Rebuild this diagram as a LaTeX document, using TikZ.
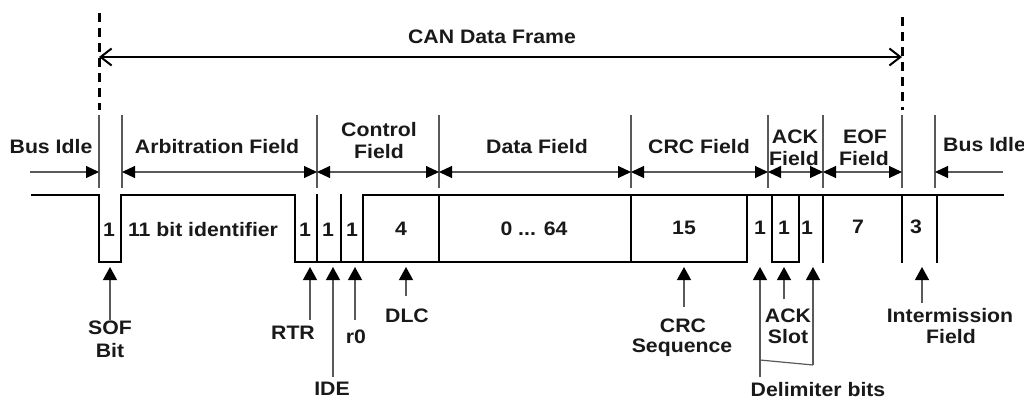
\documentclass[tikz,border=0pt]{standalone}
\usepackage{fontspec}
\setmainfont{Liberation Sans}[FakeStretch=1.09]
\usetikzlibrary{arrows.meta}
\begin{document}
\begin{tikzpicture}[x=1pt,y=-1pt,
  lbl/.style={font=\fontsize{19.5}{22}\selectfont\bfseries, inner sep=0pt, anchor=base, text=black!90},
  sig/.style={line width=2.8pt, line join=miter, line cap=rect},
  fline/.style={line width=1.1pt, black!65},
  farrow/.style={line width=1.1pt, black!65, {Triangle[length=13pt,width=12pt,black]}-{Triangle[length=13pt,width=12pt,black]}},
  rarrow/.style={line width=1.1pt, black!65, -{Triangle[length=13pt,width=12pt,black]}},
  uarrow/.style={line width=1.2pt, black!65, -{Triangle[length=13pt,width=14pt,black]}},
  dashline/.style={line width=3pt, dash pattern=on 9pt off 6pt},
  frame/.style={line width=2pt, {Straight Barb[length=11pt,width=17pt]}-{Straight Barb[length=11pt,width=17pt]}}
]
\useasboundingbox (0,0) rectangle (1024,399);

% ---------- frame dashed markers and overall arrow ----------
\coordinate (dl1) at (99,13);  \coordinate (dl2) at (99,110);
\coordinate (dr1) at (902,17); \coordinate (dr2) at (902,110);
\draw[dashline] (dl1) -- (dl2);
\draw[dashline] (dr1) -- (dr2);
\coordinate (fl) at (99,57); \coordinate (fr) at (902,57);
\draw[frame] (fl) -- (fr);
\node[lbl] (canf) at (492,43) {CAN Data Frame};

% ---------- field boundary lines ----------
\foreach \x [count=\i] in {99,122,317,439,631,768,823,902,935}{
  \coordinate (bt\i) at (\x,115);
  \coordinate (bb\i) at (\x,188);
  \draw[fline] (bt\i) -- (bb\i);
}

% ---------- field arrows ----------
\coordinate (fa0) at (30,172);
\coordinate (fa1) at (99,172);
\coordinate (fa2) at (122,172);
\coordinate (fa3) at (317,172);
\coordinate (fa4) at (439,172);
\coordinate (fa5) at (631,172);
\coordinate (fa6) at (768,172);
\coordinate (fa7) at (823,172);
\coordinate (fa8) at (902,172);
\coordinate (fa9) at (935,172);
\coordinate (fa10) at (1003,172);
\draw[rarrow] (fa0) -- (fa1);
\draw[farrow] (fa2) -- (fa3);
\draw[farrow] (fa3) -- (fa4);
\draw[farrow] (fa4) -- (fa5);
\draw[farrow] (fa5) -- (fa6);
\draw[farrow] (fa6) -- (fa7);
\draw[farrow] (fa7) -- (fa8);
\draw[rarrow] (fa10) -- (fa9);

% ---------- field labels ----------
\node[lbl] (busl) at (51,153) {Bus Idle};
\node[lbl] (arbf) at (217,153) {Arbitration Field};
\node[lbl] (ctl1) at (379,136) {Control};
\node[lbl] (ctl2) at (379,158) {Field};
\node[lbl] (datf) at (537,153) {Data Field};
\node[lbl] (crcf) at (699,153) {CRC Field};
\node[lbl] (ack1) at (795,143) {ACK};
\node[lbl] (ack2) at (794,165) {Field};
\node[lbl] (eof1) at (865,143) {EOF};
\node[lbl] (eof2) at (864,165) {Field};
\node[lbl, anchor=base west] (busr) at (943,151) {Bus Idle};

% ---------- signal waveform ----------
\draw[sig] (32,195) -- (99,195) -- (99,262) -- (121,262) -- (121,195) -- (295,195) -- (295,262) -- (747,262) -- (747,195);
\draw[sig] (363,262) -- (363,195) -- (1003,195);
\foreach \x in {317,341,439,631,823,902,937}{
  \draw[sig] (\x,195) -- (\x,262);
}
\draw[sig] (772,195) -- (772,262) -- (799,262) -- (799,195);

% ---------- bit counts ----------
\node[lbl] (b1) at (109,236) {1};
\node[lbl] (b2) at (203,236) {11 bit identifier};
\node[lbl] (b3) at (305,236) {1};
\node[lbl] (b4) at (328,236) {1};
\node[lbl] (b5) at (352,236) {1};
\node[lbl] (b6) at (401,235) {4};
\node[lbl] (b7) at (534,235) {0 ... 64};
\node[lbl] (b8) at (684,234) {15};
\node[lbl] (b9) at (760,234) {1};
\node[lbl] (b10) at (784,234) {1};
\node[lbl] (b11) at (807,234) {1};
\node[lbl] (b12) at (858,233) {7};
\node[lbl] (b13) at (916,233) {3};

% ---------- bottom labels ----------
\node[lbl] (sof1) at (110,334) {SOF};
\node[lbl] (sof2) at (110,357) {Bit};
\node[lbl] (rtr) at (293,339) {RTR};
\node[lbl] (ide) at (332,395) {IDE};
\node[lbl] (rzero) at (356,343) {r0};
\node[lbl] (dlc) at (407,322) {DLC};
\node[lbl] (crc1) at (683,332) {CRC};
\node[lbl] (crc2) at (682,352) {Sequence};
\node[lbl] (ackl1) at (788,322) {ACK};
\node[lbl] (ackl2) at (788,343) {Slot};
\node[lbl] (int1) at (950,322) {Intermission};
\node[lbl] (int2) at (951,343) {Field};
\node[lbl] (delim) at (818,396) {Delimiter bits};

% ---------- bottom pointer arrows ----------
\coordinate (sofA) at (110,320); \coordinate (sofT) at (110,267);
\coordinate (rtrA) at (310,320); \coordinate (rtrT) at (310,267);
\coordinate (ideA) at (333,377); \coordinate (ideT) at (333,267);
\coordinate (r0A) at (355,320);  \coordinate (r0T) at (355,267);
\coordinate (dlcA) at (406,296); \coordinate (dlcT) at (406,267);
\coordinate (crcA) at (684,307); \coordinate (crcT) at (684,267);
\coordinate (ackA) at (784,299); \coordinate (ackT) at (784,267);
\coordinate (intA) at (922,303); \coordinate (intT) at (922,267);
\coordinate (d1A) at (760,377);  \coordinate (d1T) at (760,267);
\coordinate (d2A) at (813,365);  \coordinate (d2T) at (813,267);
\coordinate (d1M) at (760,360);
\draw[uarrow] (sofA) -- (sofT);
\draw[uarrow] (rtrA) -- (rtrT);
\draw[uarrow] (ideA) -- (ideT);
\draw[uarrow] (r0A) -- (r0T);
\draw[uarrow] (dlcA) -- (dlcT);
\draw[uarrow] (crcA) -- (crcT);
\draw[uarrow] (ackA) -- (ackT);
\draw[uarrow] (intA) -- (intT);
\draw[uarrow] (d1A) -- (d1T);
\draw[uarrow] (d2A) -- (d2T);
\draw[line width=1.2pt, black!65] (d1M) -- (d2A);
\end{tikzpicture}
\end{document}
